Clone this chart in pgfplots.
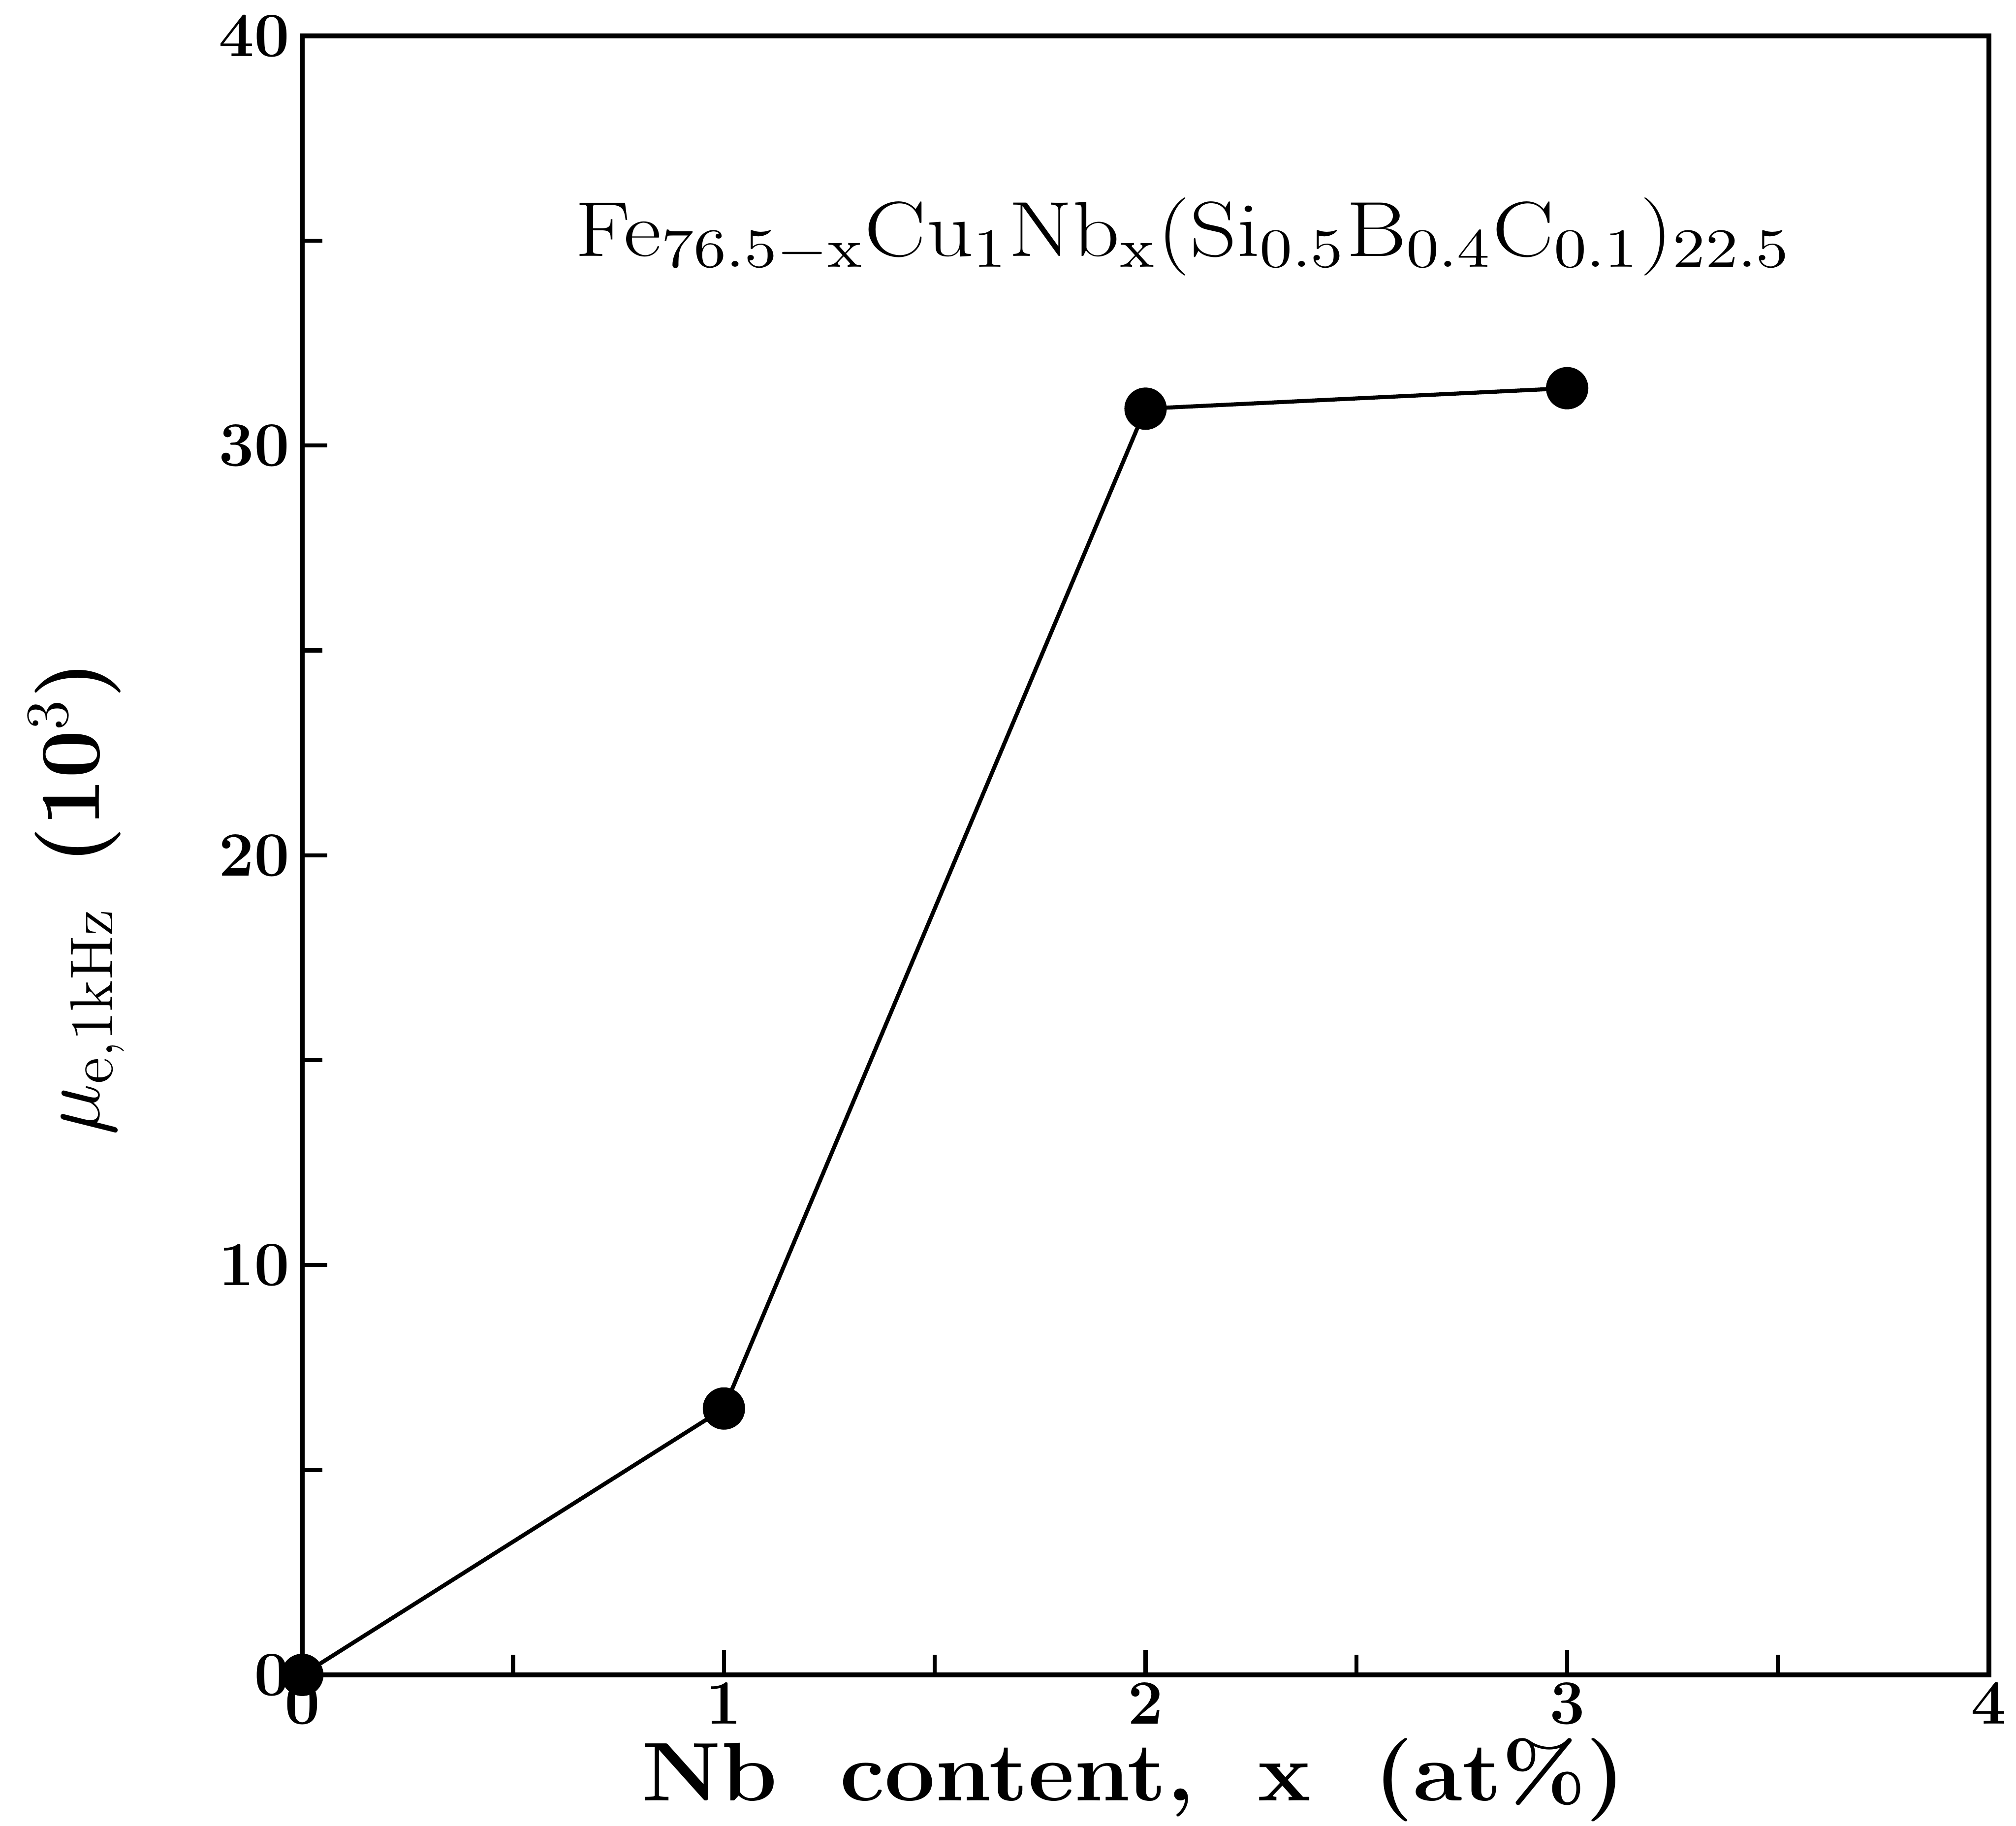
\documentclass[border=0pt]{standalone}
\usepackage{pgfplots}
\pgfplotsset{compat=1.18}
\begin{document}
\begin{tikzpicture}
\begin{axis}[
  scale only axis,
  width=334.7pt, height=325.3pt,
  xmin=0, xmax=4, ymin=0, ymax=40,
  xtick={0,1,2,3,4}, ytick={0,10,20,30,40},
  minor xtick={0.5,1.5,2.5,3.5},
  minor ytick={5,15,25,35},
  tick align=inside,
  xtick pos=bottom, ytick pos=left,
  major tick length=5pt, minor tick length=4pt,
  axis line style={line width=1pt},
  every tick/.style={line width=0.8pt, black},
  /pgf/number format/assume math mode=true,
  ticklabel style={font=\fontsize{12.5}{14}\selectfont\bfseries},
  xticklabel style={yshift=2pt},
  yticklabel style={xshift=1pt},
  clip=false,
  xlabel={\scalebox{1.08}[1]{Nb\hspace{0.7em}content,\hspace{0.7em}x\hspace{0.7em}(at\%)}},
  xlabel style={at={(axis description cs:0.493,-0.064)}, anchor=center, font=\fontsize{16.5}{18}\selectfont\bfseries},
  ylabel={{\fontsize{18.5}{20}\selectfont$\mu_{\mathrm{e,1kHz}}$}\hspace{0.5em}(10$^{3}$)},
  ylabel style={at={(axis description cs:-0.134,0.474)}, anchor=center, font=\fontsize{17}{20}\selectfont\bfseries},
]
\addplot[black, line width=0.8pt, mark=*, mark size=3.8pt, mark options={fill=black}]
  coordinates {(0,0) (1,6.5) (2,30.9) (3,31.4)};
\node[font=\fontsize{15.5}{18}\selectfont] at (axis cs:2.09,35.1)
  {\scalebox{1.18}[1]{Fe$_{\mathrm{76.5-x}}$Cu$_{\mathrm{1}}$Nb$_{\mathrm{x}}$(Si$_{\mathrm{0.5}}$B$_{\mathrm{0.4}}$C$_{\mathrm{0.1}}$)$_{\mathrm{22.5}}$}};
\end{axis}
\pgfresetboundingbox
\path (-60pt,-29.9pt) rectangle (340.1pt,332.4pt);
\end{tikzpicture}
\end{document}
